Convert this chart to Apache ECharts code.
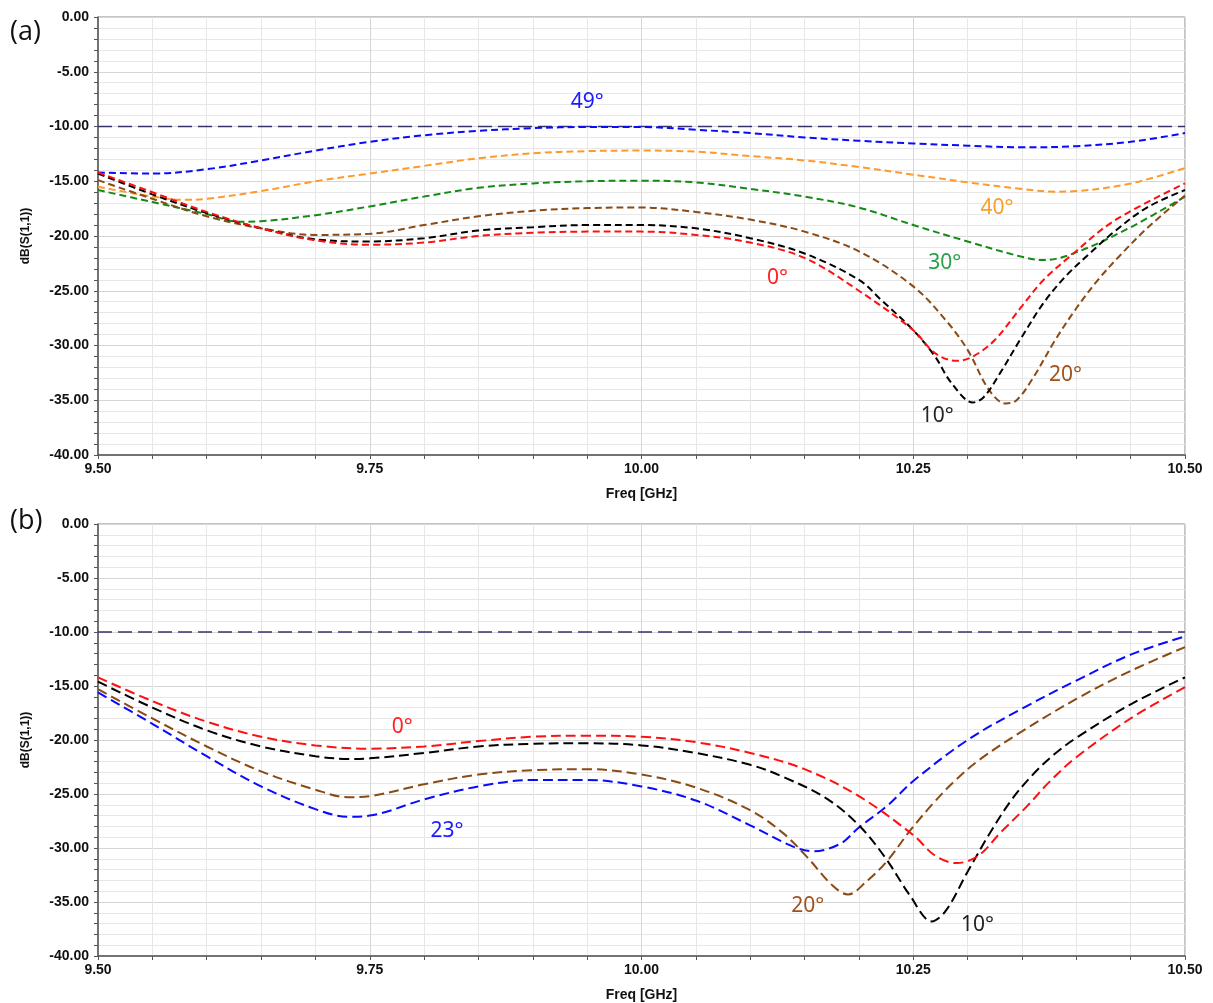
<!DOCTYPE html>
<html>
<head>
<meta charset="utf-8">
<script src="https://cdn.jsdelivr.net/npm/echarts@6/dist/echarts.min.js"></script>
<style>
html,body{margin:0;padding:0;background:#fff;}
#chart{width:1213px;height:1003px;}
</style>
</head>
<body>
<div id="chart"></div>
<script>
// ---- Panel (a) data: [freq GHz, dB] ----
const a_blue49 = [[9.50,-14.2],[9.55,-14.3],[9.60,-13.9],[9.65,-13.1],[9.70,-12.2],[9.75,-11.4],[9.80,-10.8],[9.85,-10.4],[9.90,-10.15],[9.95,-10.05],[10.00,-10.05],[10.05,-10.3],[10.10,-10.6],[10.15,-11.0],[10.20,-11.3],[10.25,-11.55],[10.30,-11.75],[10.35,-11.9],[10.40,-11.8],[10.45,-11.4],[10.50,-10.6]];
const a_orange40 = [[9.50,-15.5],[9.55,-16.4],[9.58,-16.7],[9.60,-16.6],[9.65,-15.9],[9.70,-15.0],[9.75,-14.3],[9.80,-13.6],[9.85,-12.9],[9.90,-12.45],[9.95,-12.25],[10.00,-12.2],[10.05,-12.3],[10.10,-12.7],[10.15,-13.1],[10.20,-13.7],[10.25,-14.4],[10.30,-15.1],[10.35,-15.7],[10.38,-15.95],[10.40,-15.9],[10.45,-15.2],[10.50,-13.8]];
const a_green30 = [[9.50,-15.8],[9.55,-16.9],[9.60,-18.0],[9.63,-18.7],[9.65,-18.65],[9.70,-18.1],[9.75,-17.3],[9.80,-16.4],[9.85,-15.6],[9.90,-15.2],[9.95,-15.0],[10.00,-14.95],[10.05,-15.1],[10.10,-15.7],[10.15,-16.4],[10.20,-17.4],[10.25,-19.0],[10.30,-20.5],[10.35,-21.9],[10.37,-22.2],[10.40,-21.5],[10.45,-19.2],[10.50,-16.4]];
const a_brown20 = [[9.50,-14.9],[9.55,-16.6],[9.60,-18.2],[9.65,-19.3],[9.70,-19.9],[9.75,-19.8],[9.80,-19.0],[9.85,-18.2],[9.90,-17.7],[9.95,-17.45],[10.00,-17.4],[10.05,-17.8],[10.10,-18.5],[10.15,-19.6],[10.20,-21.4],[10.25,-24.6],[10.28,-27.7],[10.30,-30.4],[10.32,-34.1],[10.335,-35.3],[10.345,-35.0],[10.36,-33.0],[10.38,-29.6],[10.40,-26.6],[10.42,-24.0],[10.44,-21.8],[10.465,-19.3],[10.50,-16.3]];
const a_black10 = [[9.50,-14.3],[9.55,-16.2],[9.60,-17.9],[9.65,-19.3],[9.70,-20.3],[9.75,-20.5],[9.80,-20.2],[9.85,-19.5],[9.90,-19.2],[9.95,-19.0],[10.00,-19.0],[10.05,-19.3],[10.10,-20.2],[10.15,-21.6],[10.20,-24.0],[10.22,-25.8],[10.25,-28.6],[10.27,-31.0],[10.285,-33.4],[10.305,-35.2],[10.315,-34.7],[10.33,-32.5],[10.35,-29.2],[10.37,-26.1],[10.39,-23.7],[10.41,-21.8],[10.435,-19.6],[10.465,-17.4],[10.50,-15.8]];
const a_red0 = [[9.50,-14.2],[9.55,-16.0],[9.60,-17.8],[9.65,-19.3],[9.70,-20.4],[9.75,-20.8],[9.80,-20.6],[9.85,-20.0],[9.90,-19.7],[9.95,-19.6],[10.00,-19.6],[10.05,-19.9],[10.10,-20.6],[10.15,-22.0],[10.20,-25.0],[10.25,-28.6],[10.27,-30.7],[10.29,-31.4],[10.305,-31.0],[10.325,-29.5],[10.35,-26.4],[10.37,-24.0],[10.395,-21.8],[10.435,-18.6],[10.50,-15.2]];

// ---- Panel (b) data ----
const b_red0 = [[9.50,-14.2],[9.55,-16.4],[9.60,-18.3],[9.65,-19.7],[9.70,-20.5],[9.75,-20.8],[9.80,-20.6],[9.85,-20.1],[9.90,-19.7],[9.95,-19.6],[10.00,-19.7],[10.05,-20.2],[10.10,-21.2],[10.15,-22.7],[10.20,-25.2],[10.25,-28.8],[10.27,-30.7],[10.29,-31.4],[10.31,-30.7],[10.33,-28.6],[10.355,-26.1],[10.375,-23.9],[10.40,-21.6],[10.45,-18.0],[10.50,-15.1]];
const b_black10 = [[9.50,-14.6],[9.55,-17.0],[9.60,-19.1],[9.65,-20.6],[9.70,-21.5],[9.73,-21.75],[9.75,-21.7],[9.80,-21.2],[9.85,-20.6],[9.90,-20.35],[9.95,-20.3],[10.00,-20.5],[10.05,-21.2],[10.10,-22.3],[10.13,-23.4],[10.17,-25.4],[10.20,-27.9],[10.225,-31.0],[10.247,-34.4],[10.267,-36.8],[10.28,-35.8],[10.30,-32.2],[10.32,-28.7],[10.34,-25.6],[10.36,-23.2],[10.38,-21.3],[10.40,-19.8],[10.45,-16.7],[10.50,-14.2]];
const b_brown20 = [[9.50,-15.3],[9.55,-18.0],[9.60,-20.6],[9.65,-22.9],[9.70,-24.6],[9.73,-25.3],[9.75,-25.2],[9.80,-24.1],[9.85,-23.2],[9.90,-22.8],[9.95,-22.7],[10.00,-23.2],[10.05,-24.4],[10.10,-26.5],[10.13,-28.6],[10.152,-30.8],[10.176,-33.5],[10.19,-34.3],[10.207,-33.1],[10.226,-31.2],[10.247,-28.4],[10.268,-25.9],[10.287,-23.9],[10.31,-21.9],[10.35,-19.2],[10.40,-16.2],[10.45,-13.6],[10.50,-11.4]];
const b_blue23 = [[9.50,-15.6],[9.55,-18.5],[9.60,-21.5],[9.65,-24.3],[9.70,-26.4],[9.73,-27.1],[9.75,-27.0],[9.80,-25.5],[9.85,-24.3],[9.90,-23.7],[9.95,-23.7],[10.00,-24.3],[10.05,-25.6],[10.10,-27.9],[10.14,-29.9],[10.158,-30.3],[10.183,-29.6],[10.20,-28.1],[10.226,-26.1],[10.25,-23.8],[10.30,-20.0],[10.35,-17.1],[10.40,-14.5],[10.45,-12.1],[10.50,-10.4]];

// -10 dB reference line
const threshold = [[9.5,-10],[10.5,-10]];

// annotation labels: [freq, dB, text]
const a_labels = {blue:[9.95,-7.8,'49°'], orange:[10.327,-17.4,'40°'], green:[10.279,-22.5,'30°'], red:[10.125,-23.8,'0°'], brown:[10.39,-32.7,'20°'], black:[10.272,-36.4,'10°']};
const b_labels = {red:[9.78,-18.8,'0°'], blue:[9.821,-28.4,'23°'], brown:[10.153,-35.4,'20°'], black:[10.309,-37.1,'10°']};

const xTicks = [9.5, 9.75, 10.0, 10.25, 10.5];

const chart = echarts.init(document.getElementById('chart'), null, {renderer:'canvas'});

function xAxisDef(gi){
  return {
    type:'value', gridIndex:gi, min:9.5, max:10.5, interval:0.25,
    name:'Freq [GHz]', nameLocation:'middle', nameGap:32,
    nameTextStyle:{fontFamily:'Liberation Sans', fontWeight:'bold', fontSize:14, color:'#111'},
    axisLine:{show:true, onZero:false, lineStyle:{color:'#555', width:1.5}},
    axisTick:{show:true, length:4, lineStyle:{color:'#555'}},
    minorTick:{show:true, splitNumber:5, length:4, lineStyle:{color:'#555'}},
    axisLabel:{fontFamily:'Liberation Sans', fontWeight:'bold', fontSize:14, color:'#111', margin:7,
      formatter:v=>xTicks.some(t=>Math.abs(t-v)<1e-6)?v.toFixed(2):''},
    splitLine:{show:true, lineStyle:{color:'#d6d6d6', width:1}},
    minorSplitLine:{show:true, lineStyle:{color:'#e7e7e7', width:1}}
  };
}
function yAxisDef(gi){
  return {
    type:'value', gridIndex:gi, min:-40, max:0, interval:5,
    name:'dB(S(1,1))', nameLocation:'middle', nameGap:66, nameRotate:90,
    nameTextStyle:{fontFamily:'Liberation Sans', fontWeight:'bold', fontSize:12, color:'#111'},
    axisLine:{show:true, onZero:false, lineStyle:{color:'#555', width:1.5}},
    axisTick:{show:true, length:4, lineStyle:{color:'#555'}},
    minorTick:{show:true, splitNumber:5, length:4, lineStyle:{color:'#555'}},
    axisLabel:{fontFamily:'Liberation Sans', fontWeight:'bold', fontSize:14, color:'#111', margin:9,
      formatter:v=>v.toFixed(2)},
    splitLine:{show:true, lineStyle:{color:'#d6d6d6', width:1}},
    minorSplitLine:{show:true, lineStyle:{color:'#e7e7e7', width:1}}
  };
}

function curve(gi, data, color, dash, lbl, lblColor){
  const s = {
    type:'line', xAxisIndex:gi, yAxisIndex:gi, data:data, showSymbol:false, symbol:'none',
    smooth:0.35, lineStyle:{color:color, width:2, type:dash}, z:3
  };
  if(lbl){
    s.markPoint = {symbol:'circle', symbolSize:0, silent:true,
      data:[{coord:[lbl[0],lbl[1]], value:lbl[2],
        label:{show:true, position:'inside', formatter:lbl[2], color:lblColor||color,
          fontFamily:'Noto Sans', fontSize:21}}]};
  }
  return s;
}
function refLine(gi){
  return {type:'line', xAxisIndex:gi, yAxisIndex:gi, data:threshold, showSymbol:false, symbol:'none',
    lineStyle:{color:'#33336b', width:1.5, type:[14,6]}, z:2};
}

const dA = [7,4], dB = [10,5];
const option = {
  animation:false,
  backgroundColor:'#fff',
  grid:[
    {left:98, top:17, width:1087, height:438, show:true, borderColor:'#888', borderWidth:1, containLabel:false},
    {left:98, top:524, width:1087, height:434, show:true, borderColor:'#888', borderWidth:1, containLabel:false}
  ],
  xAxis:[xAxisDef(0), xAxisDef(1)],
  yAxis:[yAxisDef(0), yAxisDef(1)],
  graphic:[
    {type:'text', left:10, top:19, style:{text:'(a)', font:'27px "Open Sans"', fill:'#111'}},
    {type:'text', left:10, top:508, style:{text:'(b)', font:'27px "Open Sans"', fill:'#111'}}
  ],
  series:[
    refLine(0),
    curve(0, a_green30, '#148a14', dA, a_labels.green, '#2aa04a'),
    curve(0, a_orange40, '#ff9a2a', dA, a_labels.orange, '#f5a030'),
    curve(0, a_blue49, '#0a0aff', dA, a_labels.blue, '#1a1aff'),
    curve(0, a_brown20, '#8a4a14', dA, a_labels.brown, '#a0521c'),
    curve(0, a_black10, '#000000', dA, a_labels.black, '#222222'),
    curve(0, a_red0, '#ff1010', dA, a_labels.red, '#ff2020'),
    refLine(1),
    curve(1, b_blue23, '#0a0aff', dB, b_labels.blue, '#1a1aff'),
    curve(1, b_brown20, '#8a4a14', dB, b_labels.brown, '#a0521c'),
    curve(1, b_black10, '#000000', dB, b_labels.black, '#222222'),
    curve(1, b_red0, '#ff1010', dB, b_labels.red, '#ff2020')
  ]
};
chart.setOption(option);
</script>
</body>
</html>
